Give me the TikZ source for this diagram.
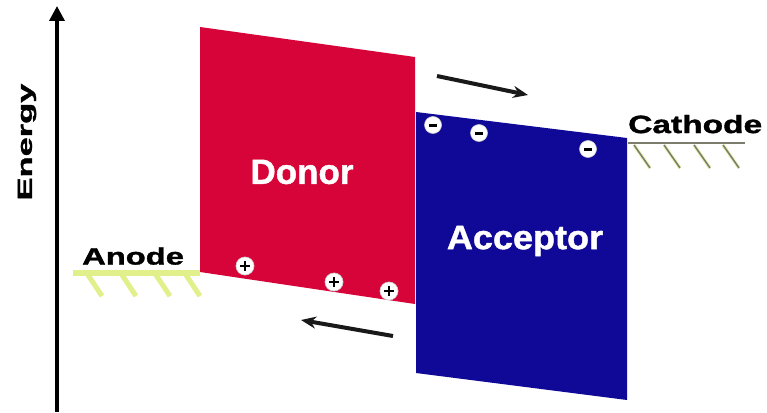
\documentclass[tikz,border=0pt]{standalone}
\usepackage{fontspec,graphicx,xcolor}
\setmainfont{Liberation Sans}[BoldFeatures={FakeBold=1.2}]
\usetikzlibrary{arrows.meta,positioning,calc}
\definecolor{donorred}{RGB}{214,4,56}
\definecolor{accblue}{RGB}{16,8,150}
\definecolor{anodelime}{RGB}{226,240,140}
\definecolor{cathgray}{RGB}{125,125,110}
\tikzset{
  band/.style={draw=none},
  bandlbl/.style={text=white,font=\bfseries},
  elbl/.style={text=black,font=\bfseries,inner sep=0pt},
  anodeln/.style={anodelime,line width=6pt},
  anodehatch/.style={anodelime,line width=5pt},
  cathln/.style={cathgray,line width=2pt},
  cathhatch/.style={draw=anodelime!60,double=cathgray,double distance=1.6pt,line width=1pt},
  charge/.style={circle,fill=white,draw=gray!40,line width=0.6pt,minimum size=17pt,inner sep=0pt},
  flow/.style={-{Stealth[length=15pt,width=12pt]},line width=4pt,black!90},
  axis/.style={-{Triangle[length=15pt,width=15pt]},line width=3.5pt}
}
\newcommand{\plussign}{\tikz\draw[line width=2.8pt] (-5pt,0)--(5pt,0) (0,-5pt)--(0,5pt);}
\newcommand{\minussign}{\tikz\draw[line width=3pt] (-4pt,0)--(4pt,0);}

\begin{document}
\begin{tikzpicture}[x=1pt,y=-1pt]
  \useasboundingbox[fill=white] (0,0) rectangle (767,412);

  % Energy axis
  \coordinate (ebot) at (57,412);
  \coordinate (etop) at (57,6);
  \draw[axis] (ebot) -- (etop);
  \node[elbl,rotate=90] (energy) at (27,142) {\fontsize{20.5}{22}\selectfont\scalebox{1.68}[1]{Energy}};

  % Donor band
  \coordinate (d1) at (200,27);
  \coordinate (d2) at (415,57);
  \coordinate (d3) at (415,304);
  \coordinate (d4) at (200,272);
  \fill[donorred] (d1) -- (d2) -- (d3) -- (d4) -- cycle;
  \node[bandlbl] (donor) at (302,172) {\fontsize{35}{38}\selectfont Donor};

  % Acceptor band
  \coordinate (a1) at (416,112);
  \coordinate (a2) at (627,138);
  \coordinate (a3) at (627,400);
  \coordinate (a4) at (416,373);
  \fill[accblue] (a1) -- (a2) -- (a3) -- (a4) -- cycle;
  \node[bandlbl] (acceptor) at (525,241) {\fontsize{34}{37}\selectfont\scalebox{1.06}[1]{Acceptor}};

  % Anode
  \coordinate (an1) at (73,273);
  \coordinate (an2) at (200,273);
  \draw[anodeln] (an1) -- (an2);
  \foreach \x in {88,122,156,186}
    \draw[anodehatch] (\x,275) -- (\x+14,296);
  \node[elbl,anchor=south west] (anode) at (82,265) {\fontsize{23.7}{26}\selectfont\scalebox{1.38}[1]{Anode}};

  % Cathode
  \coordinate (ca1) at (628,143);
  \coordinate (ca2) at (745,143);
  \draw[cathln] (ca1) -- (ca2);
  \foreach \x in {634,664,694,723}
    \draw[cathhatch] (\x,145) -- (\x+16,168);
  \node[elbl,anchor=south west] (cathode) at (628,133.5) {\fontsize{25}{27}\selectfont\scalebox{1.34}[1]{Cathode}};

  % Holes and electrons
  \foreach \px/\py [count=\i] in {245/266,334/282,389/291}
    \node[charge] (h\i) at (\px,\py) {\plussign};
  \foreach \mx/\my [count=\i] in {433/125,479/133,588/149}
    \node[charge] (e\i) at (\mx,\my) {\minussign};

  % Charge transfer arrows
  \coordinate (eton1) at (437,76);
  \coordinate (eton2) at (528,95);
  \draw[flow] (eton1) -- (eton2);
  \coordinate (hton1) at (393,336);
  \coordinate (hton2) at (301,320);
  \draw[flow] (hton1) -- (hton2);

\end{tikzpicture}
\end{document}
